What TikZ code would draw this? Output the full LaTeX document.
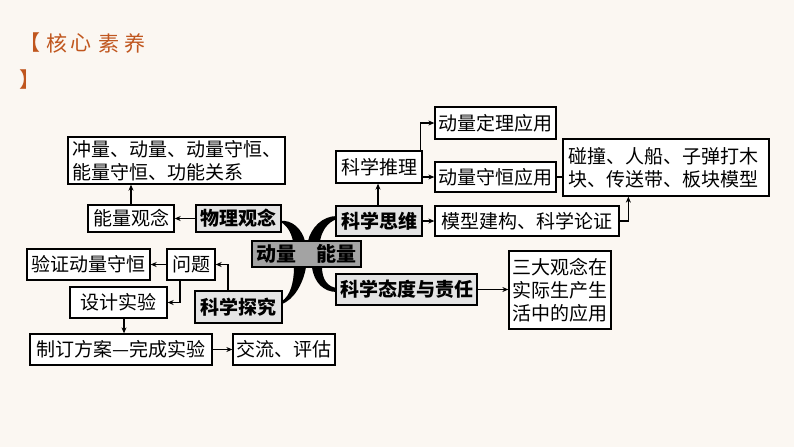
\documentclass[tikz,border=0pt]{standalone}
\usepackage{fontspec}
\newfontfamily\cjk{Noto Sans CJK SC}
\usetikzlibrary{arrows.meta,calc}
\definecolor{bg}{HTML}{FBF7F2}
\definecolor{orn}{HTML}{C0561E}
\definecolor{catg}{HTML}{E4E4E4}
\definecolor{cent}{HTML}{A3A3A3}
\begin{document}
\begin{tikzpicture}[x=1pt,y=-1pt,
  box/.style={draw=black,line width=1.3pt,fill=white,inner sep=0pt,align=center,
    font=\cjk\fontsize{19}{23}\selectfont},
  cat/.style={box,fill=catg,font=\cjk\bfseries\fontsize{19}{23}\selectfont},
  arr/.style={line width=1.2pt,-{Stealth[length=6pt,width=5pt]}},
  ln/.style={line width=1.2pt},
  ttl/.style={text=orn,inner sep=0pt,font=\cjk\fontsize{21}{21}\selectfont}]
\useasboundingbox (0,0) rectangle (794,447);
\fill[bg] (0,0) rectangle (794,447);
% title
\node[ttl] (t1) at (30,43) {【};
\node[ttl] (t2) at (57,43) {核};
\node[ttl] (t3) at (81,43) {心};
\node[ttl] (t4) at (109,43) {素};
\node[ttl] (t5) at (135,43) {养};
\node[ttl] (t6) at (30,80) {】};
% curves
\fill[black] (279,221) .. controls (293,219) and (302,230) .. (305,241)
  -- (293,241) .. controls (291,232) and (287,225) .. (279,221) -- cycle;
\fill[black] (337,216) .. controls (322,216) and (311,228) .. (308,241)
  -- (320,241) .. controls (322,230) and (328,222) .. (337,219) -- cycle;
\fill[black] (306,267) .. controls (303,285) and (293,300) .. (282,304)
  -- (282,301) .. controls (290,296) and (294,283) .. (294,267) -- cycle;
\fill[black] (312,267) .. controls (314,283) and (324,292) .. (337,292)
  -- (337,288) .. controls (328,287) and (322,280) .. (322,267) -- cycle;
% nodes
\node[box,minimum width=217pt,minimum height=47pt,text width=209pt,align=left] (top) at (176.5,160.5)
  {冲量、动量、动量守恒、\\能量守恒、功能关系};
\node[box,minimum width=86pt,minimum height=27pt] (nengliang) at (131,218.5) {能量观念};
\node[cat,minimum width=85pt,minimum height=27pt] (wuli) at (238.5,218.5) {物理观念};
\node[box,minimum width=121pt,minimum height=32pt] (dlding) at (495.5,123) {动量定理应用};
\node[box,minimum width=86pt,minimum height=32pt] (tuili) at (379,167) {科学推理};
\node[box,minimum width=121pt,minimum height=30pt] (dlshou) at (495.5,177) {动量守恒应用};
\node[box,minimum width=206pt,minimum height=57pt,text width=196pt,align=left] (peng) at (666,167.5)
  {碰撞、人船、子弹打木\\块、传送带、板块模型};
\node[cat,minimum width=86pt,minimum height=30pt] (siwei) at (379,221) {科学思维};
\node[box,minimum width=184pt,minimum height=30pt] (moxing) at (527,221) {模型建构、科学论证};
\node[cat,fill=cent,minimum width=109pt,minimum height=26pt,font=\cjk\bfseries\fontsize{20}{23}\selectfont] (center) at (306.5,254) {动量\hspace{20pt}能量};
\node[cat,minimum width=141pt,minimum height=31pt] (taidu) at (406.5,289.5) {科学态度与责任};
\node[box,minimum width=102pt,minimum height=78pt,text width=96pt] (sanda) at (560,290)
  {三大观念在\\实际生产生\\活中的应用};
\node[box,minimum width=123pt,minimum height=31pt] (yanz) at (88.5,264.5) {验证动量守恒};
\node[box,minimum width=48pt,minimum height=31pt] (wenti) at (191,264.5) {问题};
\node[box,minimum width=97pt,minimum height=31pt] (sheji) at (118.5,302.5) {设计实验};
\node[cat,minimum width=87pt,minimum height=32pt] (tanjiu) at (238.5,307) {科学探究};
\node[box,minimum width=182pt,minimum height=31pt] (zhiding) at (121,349.5) {制订方案—完成实验};
\node[box,minimum width=102pt,minimum height=31pt] (jiaoliu) at (284,349.5) {交流、评估};
% connectors
\draw[arr] (wuli.west) -- (nengliang.east);
\draw[arr] (nengliang.north) -- (nengliang.north |- top.south);
\draw[arr] ([xshift=-1pt]siwei.north) -- ([xshift=-1pt]siwei.north |- tuili.south);
\draw[arr] ([xshift=-2pt]tuili.north east) |- (dlding.west);
\draw[arr] (tuili.east |- dlshou.west) -- (dlshou.west);
\draw[ln] (dlshou.east) -- (peng.west |- dlshou.east);
\draw[arr] (siwei.east) -- (moxing.west);
\draw[arr] (moxing.east) -| ([xshift=66pt]peng.south west);
\draw[arr] (taidu.east) -- (sanda.west |- taidu.east);
\draw[arr] (wenti.west) -- (yanz.east);
\draw[arr] ([xshift=-10.5pt]tanjiu.north) |- (wenti.east);
\draw[arr] ([xshift=-11pt]wenti.south) |- (sheji.east);
\draw[arr] ([xshift=5.5pt]sheji.south) -- ([xshift=5.5pt]sheji.south |- zhiding.north);
\draw[arr] (zhiding.east) -- (jiaoliu.west);
\end{tikzpicture}
\end{document}
